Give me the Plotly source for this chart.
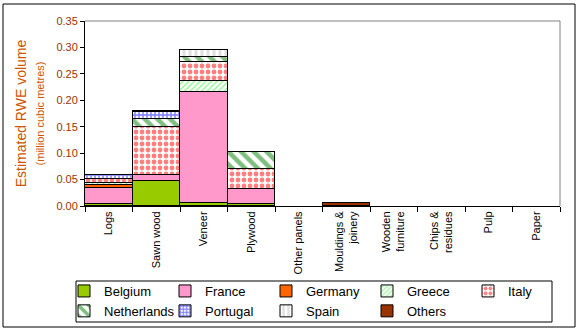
import plotly.graph_objects as go

categories = ["Logs", "Sawn wood", "Veneer", "Plywood", "Other panels",
              "Mouldings &<br>joinery", "Wooden<br>furniture", "Chips &<br>residues",
              "Pulp", "Paper"]

belgium     = [0.004, 0.047, 0.005, 0.004, None, None, None, None, None, None]
france      = [0.031, 0.012, 0.211, 0.028, None, None, None, None, None, None]
germany     = [0.005, None, None, None, None, None, None, None, None, None]
greece      = [0.003, None, 0.021, None, None, None, None, None, None, None]
italy       = [0.008, 0.091, 0.036, 0.038, None, None, None, None, None, None]
netherlands = [0.001, 0.015, 0.008, 0.033, None, None, None, None, None, None]
portugal    = [0.006, 0.012, 0.001, None, None, None, None, None, None, None]
spain       = [0.001, 0.002, 0.014, None, None, None, None, None, None, None]
others      = [None, None, None, None, None, 0.005, None, None, None, None]

series = [
    ("Belgium", belgium, dict(color="#99CC00")),
    ("France", france, dict(color="#FF99CC")),
    ("Germany", germany, dict(color="#FF6600")),
    ("Greece", greece, dict(color="white", pattern=dict(shape="/", fgcolor="#22EE22", bgcolor="white", size=4, solidity=0.35))),
    ("Italy", italy, dict(color="white", pattern=dict(shape=".", fgcolor="#FF0000", bgcolor="white", size=6, solidity=0.5))),
    ("Netherlands", netherlands, dict(color="white", pattern=dict(shape="\\", fgcolor="#008000", bgcolor="white", size=9, solidity=0.5))),
    ("Portugal", portugal, dict(color="white", pattern=dict(shape="+", fgcolor="#0000FF", bgcolor="white", size=4, solidity=0.6))),
    ("Spain", spain, dict(color="white", pattern=dict(shape="|", fgcolor="#C0C0C0", bgcolor="white", size=6, solidity=0.5))),
    ("Others", others, dict(color="#993300")),
]

fig = go.Figure()
for name, vals, mk in series:
    mk = dict(mk)
    mk["line"] = dict(color="black", width=1)
    fig.add_trace(go.Bar(x=categories, y=vals, name=name, marker=mk))

L, R, T, B = 85, 17, 21, 126
W, H = 577, 332
pw, ph = W - L - R, H - T - B

def px(x):
    return (x - L) / pw

def py(y):
    return (H - B - y) / ph

fig.update_layout(
    width=W, height=H,
    margin=dict(l=L, r=R, t=T, b=B, autoexpand=False),
    barmode="stack", bargap=0,
    paper_bgcolor="white", plot_bgcolor="white",
    font=dict(family="Liberation Sans, Arial, sans-serif", size=11, color="black"),
    showlegend=True,
    legend=dict(orientation="h", x=px(64), y=py(276), xanchor="left", yanchor="top",
                traceorder="normal", entrywidth=56, entrywidthmode="pixels",
                borderwidth=0, bgcolor="rgba(0,0,0,0)", font=dict(size=13),
                itemwidth=30, tracegroupgap=0),
    xaxis=dict(showline=True, linecolor="black", linewidth=1, ticks="outside",
               tickson="boundaries", ticklen=5, tickcolor="black", tickangle=-90,
               tickfont=dict(size=11, color="black"), showgrid=False),
    yaxis=dict(range=[0, 0.35], dtick=0.05, tickformat=".2f", showline=True,
               linecolor="black", linewidth=1, ticks="outside", ticklen=4,
               tickcolor="black", showgrid=False, zeroline=False,
               tickfont=dict(size=11, color="#993300"),
               title=dict(text="Estimated RWE volume<br><span style='font-size:11px'>(million cubic metres)</span>",
                          font=dict(size=14, color="#CC5500"), standoff=8)),
    shapes=[
        dict(type="line", xref="paper", yref="paper", x0=0, x1=1, y0=1, y1=1,
             line=dict(color="#808080", width=1)),
        dict(type="line", xref="paper", yref="paper", x0=1, x1=1, y0=0, y1=1,
             line=dict(color="#808080", width=1)),
        dict(type="rect", xref="paper", yref="paper", x0=px(3), x1=px(575),
             y0=py(327), y1=py(4), line=dict(color="black", width=1)),
        dict(type="rect", xref="paper", yref="paper", x0=px(76), x1=px(552),
             y0=py(322), y1=py(281), line=dict(color="black", width=1), layer="below"),
    ],
)

fig.write_html("out.html")
